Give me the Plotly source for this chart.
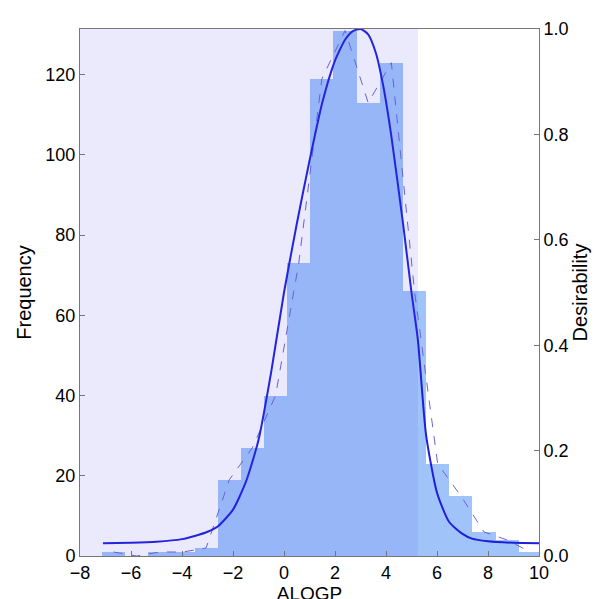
import numpy as np
import plotly.graph_objects as go

bin_start = -7.14
bin_width = 0.908
counts = [1, 0, 1, 1, 2, 19, 27, 40, 73, 119, 131, 113, 123, 66, 23, 15, 6, 4, 1]
desir_x = [-7.1, -6, -5, -4, -3.5, -3, -2.6, -2, -1.5, -1, -0.5, 0, 0.5, 1, 1.5, 2, 2.4, 2.7, 3.0, 3.3, 3.6, 3.9, 4.2, 4.67, 5.0, 5.25, 5.57, 6.0, 6.47, 7.0, 7.37, 8, 9, 10]
desir_y = [0.024, 0.025, 0.027, 0.032, 0.038, 0.046, 0.056, 0.088, 0.14, 0.22, 0.35, 0.5, 0.63, 0.75, 0.86, 0.94, 0.98, 0.996, 1.0, 0.99, 0.955, 0.89, 0.8, 0.63, 0.5, 0.41, 0.23, 0.12, 0.065, 0.042, 0.033, 0.028, 0.025, 0.024]
x_ticks = [-8, -6, -4, -2, 0, 2, 4, 6, 8, 10]
y_ticks = [0, 20, 40, 60, 80, 100, 120]
r_ticks = [0.0, 0.2, 0.4, 0.6, 0.8, 1.0]
shade_range = [-8, 5.25]

centers = [bin_start + bin_width * (i + 0.5) for i in range(len(counts))]
ymax = 131.4
font = dict(family="Liberation Sans, Arial", size=18, color="black")

fig = go.Figure()
fig.add_trace(go.Bar(x=centers, y=counts, width=bin_width, marker=dict(color="rgb(160,196,250)", line=dict(width=0)), showlegend=False))
fig.add_trace(go.Scatter(x=centers, y=counts, mode="lines", line=dict(color="rgb(110,100,210)", width=1, dash="dash"), showlegend=False))
fig.add_trace(go.Scatter(x=desir_x, y=desir_y, mode="lines", line=dict(color="rgb(30,30,220)", width=2, shape="spline", smoothing=0.6), yaxis="y2", showlegend=False))
fig.add_shape(type="rect", xref="x", yref="paper", x0=shade_range[0], x1=shade_range[1], y0=0, y1=1,
              fillcolor="rgba(80,80,230,0.12)", line=dict(width=0), layer="above")

ax = dict(showgrid=False, zeroline=False, showline=True, linecolor="#777", linewidth=1, ticks="inside", ticklen=5, tickcolor="#777", tickfont=font)
fig.update_layout(
    width=600, height=599, margin=dict(l=72, r=69, t=11, b=48),
    plot_bgcolor="white", paper_bgcolor="white", bargap=0,
    xaxis=dict(ax, range=[-8, 10], tickvals=x_ticks, mirror=True, title=dict(text="ALOGP", font=dict(font, size=19), standoff=0)),
    yaxis=dict(ax, range=[0, ymax], tickvals=y_ticks, title=dict(text="Frequency", font=dict(font, size=20), standoff=8)),
    yaxis2=dict(ax, range=[0, 1.0], tickvals=r_ticks, ticktext=[f"{v:.1f}" for v in r_ticks], overlaying="y", side="right",
                title=dict(text="Desirability", font=dict(font, size=20), standoff=2)),
)
fig.write_html("out.html")
